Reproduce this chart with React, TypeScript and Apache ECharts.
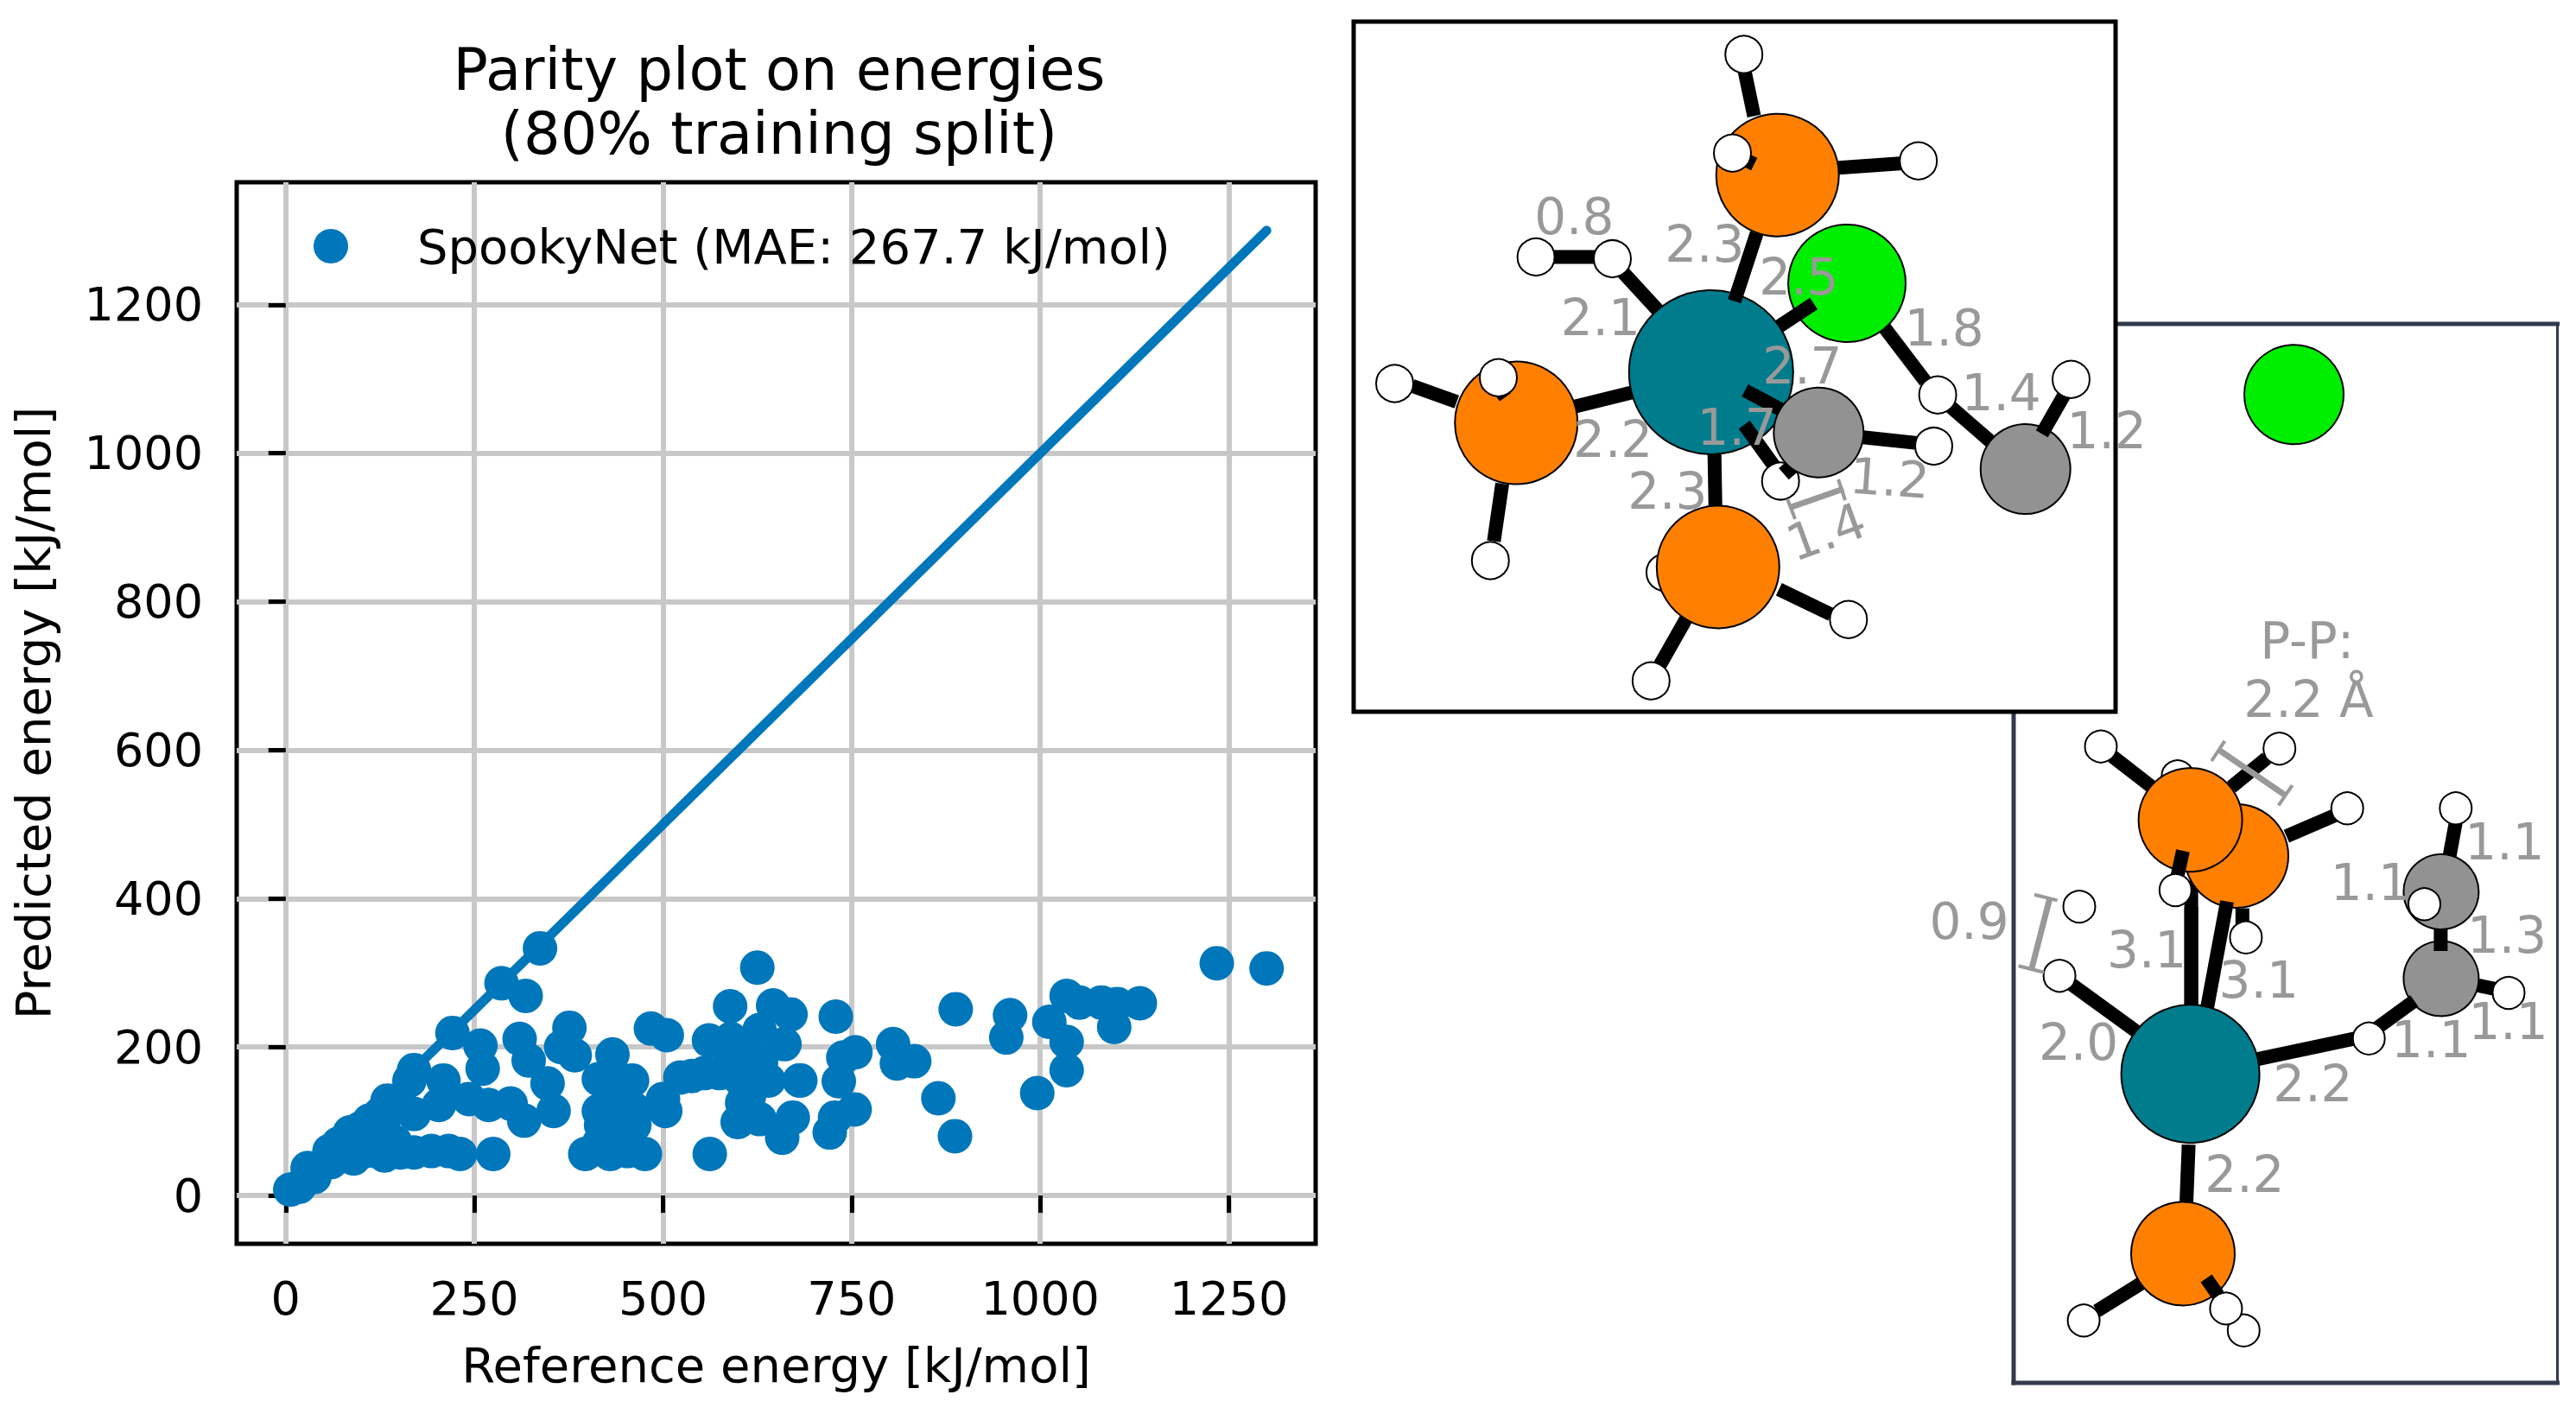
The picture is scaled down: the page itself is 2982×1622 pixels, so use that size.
import React, { useEffect, useRef } from "react";
import * as echarts from "echarts";

const titleText = "Parity plot on energies\n(80% training split)";
const xAxisName = "Reference energy [kJ/mol]";
const yAxisName = "Predicted energy [kJ/mol]";
const legendName = "SpookyNet (MAE: 267.7 kJ/mol)";
const xTicks = [0, 250, 500, 750, 1000, 1250];
const yTicks = [0, 200, 400, 600, 800, 1000, 1200];
const parityLine = [0, 1300];

// [reference, predicted]
const points: [number, number][] = [
  [1234, 313], [1300, 306], [888, 251], [960, 243], [955, 213], [729, 241], [755, 193], [739, 186],
  [805, 204], [810, 178], [833, 181], [733, 154], [681, 155], [754, 116], [728, 105], [721, 85],
  [865, 131], [887, 80], [996, 138], [1035, 169], [1035, 207], [1012, 234], [1035, 269], [1052, 260],
  [1081, 260], [1102, 258], [1132, 259], [1098, 227],
  [337, 333], [286, 286], [318, 269], [221, 219], [258, 202], [261, 171], [310, 211], [376, 226],
  [365, 200], [383, 189], [322, 182], [347, 151], [355, 114], [316, 101], [298, 124], [269, 122],
  [243, 130], [209, 155], [203, 122], [170, 110], [170, 169], [164, 155], [135, 128], [111, 101],
  [85, 85], [58, 60], [29, 37], [6, 8], [18, 12], [38, 25], [70, 70], [98, 90], [125, 110], [150, 120],
  [275, 56], [231, 56], [193, 60], [170, 58], [131, 54], [82, 54], [105, 60], [152, 58], [216, 60],
  [60, 45], [95, 65], [110, 75], [130, 88], [120, 60], [145, 72], [90, 50], [75, 58], [105, 88], [130, 105],
  [433, 190], [415, 157], [459, 155], [435, 155], [415, 114], [462, 116], [441, 118], [462, 95], [418, 95],
  [397, 56], [430, 56], [476, 56], [453, 60], [415, 70], [445, 75], [484, 225], [505, 216], [503, 114], [500, 130], [523, 159],
  [538, 161], [561, 209], [555, 165], [562, 56], [589, 255], [625, 307], [646, 256], [669, 244], [628, 223],
  [661, 204], [590, 211], [590, 184], [602, 157], [640, 155], [614, 134], [599, 99], [628, 103], [672, 105],
  [658, 78], [682, 155], [611, 184], [605, 125], [630, 180], [575, 165],
];

// Decorative molecule drawings beside the plot
type Item = ["b", number, number, number, number] | ["a", number, number, number, string];
const T = "#007c8c", O = "#ff8000", G = "#00ee00", C = "#929292", H = "#ffffff";
const rH1 = 21.5, rH2 = 18.5;

const panel2Frame = { x1: 2331, y1: 375, x2: 2960.5, y2: 1601 };
const panel2: Item[] = [
  ["a", 2655.5, 456.8, 57.5, G],
  ["b", 2445.3, 875.6, 2491.2, 911.3], ["b", 2623.9, 877.7, 2583, 911.3], ["b", 2705.5, 942.9, 2646.8, 968.2],
  ["b", 2536.6, 1020, 2536.6, 1166.6],
  ["a", 2520.8, 898.7, rH2, H],
  ["a", 2589, 991, 60, O],
  ["b", 2595.8, 1051.6, 2595.8, 1071.4],
  ["a", 2535.6, 949.2, 60, O],
  ["b", 2527, 985, 2519.3, 1020],
  ["b", 2536.6, 1050, 2536.6, 1166.6],
  ["a", 2432, 864.2, rH2, H], ["a", 2638.7, 866.7, rH2, H], ["a", 2717.2, 935.8, rH2, H],
  ["a", 2518.3, 1030.5, rH2, H], ["a", 2599.9, 1085.3, rH2, H],
  ["b", 2843.3, 949.2, 2835.6, 991.3],
  ["a", 2842.8, 935.8, rH2, H],
  ["a", 2825.9, 1132.9, 43.5, C],
  ["a", 2825.9, 1032.5, 43.5, C],
  ["b", 2825.4, 1075.4, 2825.4, 1101],
  ["a", 2806.5, 1046.8, rH2, H],
  ["b", 2868.8, 1140.8, 2891.7, 1145.6], ["a", 2904, 1149.5, rH2, H],
  ["b", 2751.4, 1190.4, 2794.8, 1158.7],
  ["b", 2396.8, 1138.8, 2473.4, 1194.4], ["a", 2384.1, 1129.7, rH2, H], ["a", 2407, 1049.6, rH2, H],
  ["b", 2726, 1202.3, 2613.7, 1226.1], ["a", 2742.2, 1202.3, rH2, H],
  ["a", 2535.6, 1243.2, 80, T],
  ["b", 2555, 1166.6, 2578, 1043.6],
  ["b", 2533.6, 1325.3, 2531, 1392.7],
  ["a", 2597.3, 1540.3, rH2, H],
  ["b", 2478.5, 1485.9, 2427.4, 1517.7], ["a", 2412.1, 1528.8, rH2, H],
  ["a", 2527, 1451.4, 60, O],
  ["b", 2554, 1480, 2567.8, 1499.8], ["a", 2576.9, 1514.9, rH2, H],
];
const panel2Brackets: number[][] = [
  [2372.9, 1039.7, 2352, 1121], [2355, 1035.7, 2381.5, 1042.4], [2336.6, 1118.2, 2366.2, 1125.7],
  [2568.8, 868.4, 2644.3, 919.8], [2575.4, 857.9, 2560.1, 881], [2653.5, 909.2, 2637.7, 932.4],
];
const panel2Labels: [string, number, number][] = [
  ["P-P:", 2670.8, 742], ["2.2 Å", 2672.4, 810], ["0.9", 2279.5, 1067.4], ["3.1", 2485.1, 1100], ["3.1", 2614.7, 1134.9],
  ["2.0", 2406, 1207], ["1.1", 2743.8, 1021.8], ["1.1", 2899.4, 974.5], ["1.3", 2902, 1083.3], ["1.1", 2903.5, 1182.5],
  ["1.1", 2814.2, 1204.3], ["2.2", 2677.4, 1255], ["2.2", 2598.4, 1359.8],
];

const panel1Frame = { x1: 1567, y1: 25, x2: 2449, y2: 824 };
const panel1: Item[] = [
  ["b", 2030.5, 134.4, 2018.7, 78],
  ["b", 2128.4, 194.2, 2203, 188.9],
  ["b", 1921.7, 362, 1873, 309],
  ["b", 1847, 297.5, 1795, 297.5],
  ["b", 1898.7, 452, 1823.8, 470.6],
  ["b", 1686.3, 465.3, 1634.7, 446.7],
  ["b", 1739, 560, 1729.3, 626.7],
  ["b", 1984.6, 522, 1985.8, 590],
  ["b", 2059.3, 682.3, 2119.7, 711.4],
  ["b", 1953.2, 714.1, 1921.7, 769.7],
  ["b", 2154.2, 506, 2219, 512.9],
  ["b", 2174.3, 369.9, 2228.8, 441.5],
  ["b", 2254.5, 467.9, 2306.3, 512.9],
  ["a", 1927.4, 662.7, rH1, H],
  ["a", 1988.8, 656.4, 71, O],
  ["a", 2057.7, 202.7, 71, O],
  ["a", 1755.2, 489.6, 71, O],
  ["b", 1742.5, 459.9, 1735, 449.4],
  ["b", 2030.7, 190, 2005.5, 177.3],
  ["a", 2138, 328, 68, G],
  ["a", 1980.8, 430.9, 95, T],
  ["b", 2007.8, 348.8, 2033.6, 270],
  ["b", 2059.3, 378, 2099.6, 351.5],
  ["b", 2020, 452, 2065, 476],
  ["b", 2019.2, 491.7, 2053.6, 539.4],
  ["a", 2061.2, 556.9, rH1, H],
  ["b", 2065.2, 536.7, 2076.7, 550],
  ["a", 2105.3, 500.7, 52, C],
  ["a", 2344.7, 543, 52, C],
  ["b", 2363.7, 502.3, 2389.5, 457.3],
  ["a", 2018.7, 63, rH1, H], ["a", 2005.5, 177.3, rH1, H], ["a", 2220.7, 186.3, rH1, H],
  ["a", 1778.1, 297.5, rH1, H], ["a", 1866.5, 299.6, rH1, H], ["a", 1614.5, 444, rH1, H],
  ["a", 1734.5, 437.2, rH1, H], ["a", 1725.3, 649, rH1, H], ["a", 2139.8, 717.2, rH1, H],
  ["a", 1911.3, 788.2, rH1, H], ["a", 2238.5, 516.6, rH1, H], ["a", 2243.1, 457.3, rH1, H],
  ["a", 2397.5, 439.3, rH1, H],
];
const panel1Brackets: number[][] = [
  [2073.8, 587, 2134, 566], [2069, 577.5, 2078, 601], [2128, 555, 2136, 579],
];
const panel1Labels: [string, number, number, number][] = [
  ["0.8", 1822.3, 251.4, 0], ["2.3", 1973.3, 282.6, 0], ["2.5", 2082.4, 320.8, 0], ["2.1", 1852.8, 368.4, 0],
  ["1.8", 2250.6, 379.5, 0], ["2.7", 2086.4, 424, 0], ["1.4", 2316.6, 454.7, 0], ["1.7", 2010.6, 495.4, 0],
  ["2.2", 1867.1, 508.7, 0], ["1.2", 2438.7, 499, 0], ["1.2", 2187.5, 553.7, -0.07], ["2.3", 1930.3, 568.5, 0],
  ["1.4", 2114, 616, 0.35],
];

const FONT = "DejaVu Sans";
const LABEL_GREY = "#999999";

function itemsToGraphic(items: Item[]) {
  return items.map((it) =>
    it[0] === "b"
      ? { type: "line", silent: true, shape: { x1: it[1], y1: it[2], x2: it[3], y2: it[4] }, style: { stroke: "#000", lineWidth: 16 } }
      : { type: "circle", silent: true, shape: { cx: it[1], cy: it[2], r: it[3] }, style: { fill: it[4], stroke: "#000", lineWidth: 2 } },
  );
}
function bracketsToGraphic(br: number[][]) {
  return br.map((b, i) => ({
    type: "line", silent: true,
    shape: { x1: b[0], y1: b[1], x2: b[2], y2: b[3] },
    style: { stroke: LABEL_GREY, lineWidth: i % 3 === 0 ? 7 : 4 },
  }));
}
function labelToGraphic(text: string, x: number, y: number, rotation = 0) {
  return {
    type: "text", silent: true, x, y, rotation,
    style: { text, fill: LABEL_GREY, font: `58px "${FONT}"`, align: "center", verticalAlign: "middle" },
  };
}
function frameLines(f: { x1: number; y1: number; x2: number; y2: number }, color: string, w: number, right: number) {
  return [
    [f.x1, f.y1, f.x2, f.y1, w], [f.x1, f.y2, f.x2, f.y2, w], [f.x1, f.y1, f.x1, f.y2, w], [f.x2, f.y1, f.x2, f.y2, right],
  ].map((l) => ({
    type: "line", silent: true, shape: { x1: l[0], y1: l[1], x2: l[2], y2: l[3] },
    style: { stroke: color, lineWidth: l[4], lineCap: "square" },
  }));
}

export default function App() {
  const ref = useRef<HTMLDivElement>(null);
  useEffect(() => {
    document.body.style.margin = "0";
    const chart = echarts.init(ref.current!, undefined, { renderer: "svg" });
    const tickLabel = (v: number) => String(v);
    const axisCommon = {
      type: "value" as const,
      min: -65,
      max: 1365,
      nameLocation: "middle" as const,
      nameTextStyle: { fontFamily: FONT, fontSize: 56, color: "#000" },
      axisLine: { show: false },
      splitLine: { show: true, lineStyle: { color: "#c8c8c8", width: 6 } },
    };
    chart.setOption({
      animation: false,
      backgroundColor: "#fff",
      title: {
        text: titleText, left: 897, top: 39, textAlign: "center",
        textStyle: { fontFamily: FONT, fontSize: 67, fontWeight: "normal", color: "#000", lineHeight: 74 },
      },
      legend: {
        data: [{ name: legendName, icon: "circle" }],
        left: 358, top: 252, itemWidth: 40, itemHeight: 40, selectedMode: false,
        textStyle: { fontFamily: FONT, fontSize: 56, color: "#000", padding: [0, 0, 0, 75] },
      },
      grid: {
        left: 274, top: 211, width: 1249, height: 1229, show: true,
        borderColor: "#000", borderWidth: 5, backgroundColor: "#fff", outerBoundsMode: "none",
      },
      xAxis: {
        ...axisCommon,
        name: xAxisName, nameGap: 112,
        axisTick: { show: true, length: 20, customValues: xTicks, lineStyle: { color: "#000", width: 5 } },
        axisLabel: { customValues: xTicks, formatter: tickLabel, fontFamily: FONT, fontSize: 54, color: "#000", margin: 36 },
      },
      yAxis: {
        ...axisCommon,
        name: yAxisName, nameGap: 208,
        axisTick: { show: true, length: 20, customValues: yTicks, lineStyle: { color: "#000", width: 5 } },
        axisLabel: { customValues: yTicks, formatter: tickLabel, fontFamily: FONT, fontSize: 54, color: "#000", margin: 39 },
      },
      series: [
        {
          type: "line", name: "parity", data: parityLine.map((v) => [v, v]), showSymbol: false,
          lineStyle: { color: "#0077bb", width: 11, cap: "round" }, z: 2,
        },
        {
          type: "scatter", name: legendName, data: points, symbolSize: 40,
          itemStyle: { color: "#0077bb", opacity: 1 }, z: 3,
        },
      ],
      graphic: {
        elements: [
          ...frameLines(panel2Frame, "#333a4d", 5, 3),
          ...itemsToGraphic(panel2),
          ...bracketsToGraphic(panel2Brackets),
          ...panel2Labels.map((l) => labelToGraphic(l[0], l[1], l[2])),
          {
            type: "rect", silent: true,
            shape: { x: panel1Frame.x1, y: panel1Frame.y1, width: panel1Frame.x2 - panel1Frame.x1, height: panel1Frame.y2 - panel1Frame.y1 },
            style: { fill: "#fff", stroke: "#000", lineWidth: 5 },
          },
          ...itemsToGraphic(panel1),
          ...bracketsToGraphic(panel1Brackets),
          ...panel1Labels.map((l) => labelToGraphic(l[0], l[1], l[2], l[3])),
        ],
      },
    });
    return () => chart.dispose();
  }, []);
  return <div ref={ref} style={{ position: "absolute", left: 0, top: 0, width: 2982, height: 1622 }} />;
}
